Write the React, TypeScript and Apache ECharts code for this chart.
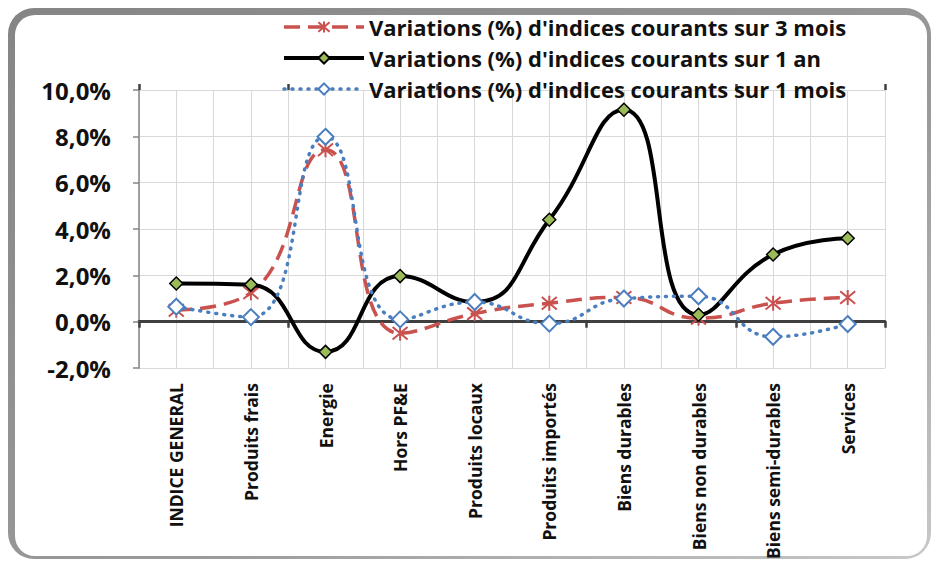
import React, { useEffect, useRef } from "react";
import * as echarts from "echarts";

const categories = [
  "INDICE GENERAL",
  "Produits frais",
  "Energie",
  "Hors PF&E",
  "Produits locaux",
  "Produits importés",
  "Biens durables",
  "Biens non durables",
  "Biens semi-durables",
  "Services",
];
const gridCats = Array.from({ length: 20 }, (_, i) => String(i));

const name3m = "Variations (%) d'indices courants sur 3 mois";
const name1a = "Variations (%) d'indices courants sur 1 an";
const name1m = "Variations (%) d'indices courants sur 1 mois";

const var3mois = [0.5, 1.25, 7.42, -0.5, 0.35, 0.8, 1.05, 0.15, 0.8, 1.05];
const var1an = [1.65, 1.6, -1.3, 1.97, 0.85, 4.4, 9.15, 0.3, 2.9, 3.6];
const var1mois = [0.65, 0.2, 7.98, 0.1, 0.85, -0.08, 1.0, 1.1, -0.65, -0.1];

const FONT = "'Open Sans', sans-serif";
const RED = "#c9514e";
const BLUE = "#4a7ebf";
const GREEN = "#9bbb59";

const asterisk = "path://M0,0L10,10M0,10L10,0M5,-1L5,11";

export default function App() {
  const ref = useRef<HTMLDivElement>(null);
  useEffect(() => {
    if (!ref.current) return;
    const chart = echarts.init(ref.current, undefined, { renderer: "svg" });
    chart.setOption({
      animation: false,
      backgroundColor: "#ffffff",
      graphic: [
        {
          type: "rect",
          z: -10,
          silent: true,
          shape: { x: 8, y: 8, width: 923, height: 551, r: 26 },
          style: {
            fill: new echarts.graphic.LinearGradient(0, 0, 1, 1, [
              { offset: 0, color: "#858585" },
              { offset: 0.6, color: "#9a9a9a" },
              { offset: 1, color: "#c8c8c8" },
            ]),
          },
        },
        {
          type: "rect",
          z: -9,
          silent: true,
          shape: { x: 15, y: 15, width: 912, height: 541, r: 20 },
          style: { fill: "#ffffff" },
        },
      ],
      legend: {
        orient: "vertical",
        left: 277,
        top: 11,
        itemWidth: 80,
        itemHeight: 14,
        itemGap: 9,
        textStyle: { fontFamily: FONT, fontWeight: "bold", fontSize: 22, color: "#111" },
        data: [
          { name: name3m, lineStyle: { width: 3.5 } },
          { name: name1a, lineStyle: { width: 4 } },
          { name: name1m, lineStyle: { width: 3.5 } },
        ],
      },
      grid: { left: 139, right: 49, top: 90, bottom: 192 },
      xAxis: [
        {
          type: "category",
          data: categories,
          position: "bottom",
          axisLine: { show: false, onZero: false },
          axisTick: { show: false },
          splitLine: { show: false },
          axisLabel: {
            interval: 0,
            rotate: 90,
            margin: 15,
            fontFamily: FONT,
            fontWeight: "bold",
            fontSize: 17.5,
            color: "#111",
          },
        },
        {
          type: "category",
          data: categories,
          position: "bottom",
          axisLine: { show: true, onZero: true, lineStyle: { color: "#3f3f3f", width: 3 } },
          axisTick: { show: true, length: 6, lineStyle: { color: "#3f3f3f", width: 2.5 } },
          axisLabel: { show: false },
          splitLine: { show: false },
        },
        {
          type: "category",
          data: categories,
          position: "top",
          axisLine: { show: false, onZero: true },
          axisTick: { show: true, length: 6, lineStyle: { color: "#3f3f3f", width: 2.5 } },
          axisLabel: { show: false },
          splitLine: { show: false },
        },
        {
          type: "category",
          data: gridCats,
          position: "bottom",
          axisLine: { show: false, onZero: false },
          axisTick: { show: false },
          axisLabel: { show: false, interval: 0 },
          splitLine: { show: true, interval: 0, lineStyle: { color: "#d9d9d9", width: 1 } },
        },
      ],
      yAxis: {
        type: "value",
        min: -2,
        max: 10,
        interval: 2,
        axisLine: { show: true, lineStyle: { color: "#868686", width: 1.5 } },
        axisTick: { show: true, length: 6, lineStyle: { color: "#868686", width: 1.5 } },
        splitLine: { show: true, lineStyle: { color: "#d9d9d9", width: 1 } },
        axisLabel: {
          margin: 28,
          fontFamily: FONT,
          fontWeight: "bold",
          fontSize: 24,
          color: "#111",
          formatter: (v: number) => v.toFixed(1).replace(".", ",") + "%",
        },
      },
      series: [
        {
          name: name3m,
          type: "line",
          data: var3mois,
          smooth: 0.5,
          symbol: asterisk,
          symbolSize: 15,
          lineStyle: { color: RED, width: 3.5, type: [16, 8] },
          itemStyle: { color: "rgba(0,0,0,0)", borderColor: RED, borderWidth: 2 },
          z: 3,
        },
        {
          name: name1a,
          type: "line",
          data: var1an,
          smooth: 0.5,
          symbol: "diamond",
          symbolSize: 13,
          lineStyle: { color: "#000", width: 4 },
          itemStyle: { color: GREEN, borderColor: "#000", borderWidth: 1.5 },
          z: 4,
        },
        {
          name: name1m,
          type: "line",
          data: var1mois,
          smooth: 0.5,
          symbol: "diamond",
          symbolSize: 16,
          lineStyle: { color: BLUE, width: 3.5, type: [1, 7], cap: "round" },
          itemStyle: { color: "#fff", borderColor: BLUE, borderWidth: 2 },
          z: 5,
        },
      ],
    });
    return () => chart.dispose();
  }, []);
  return <div ref={ref} style={{ width: 934, height: 562, position: "absolute", left: 0, top: 0 }} />;
}
